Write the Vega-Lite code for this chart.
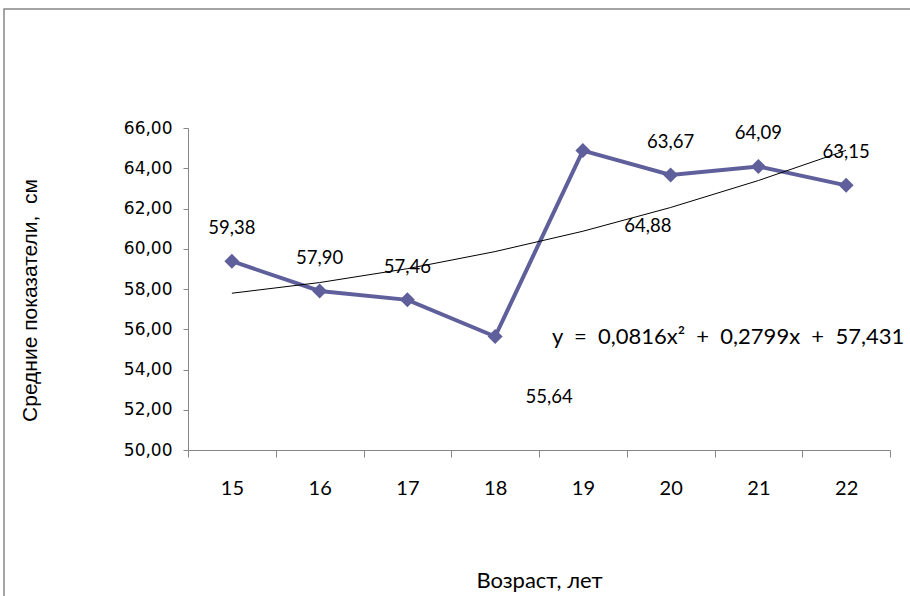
{
  "$schema": "https://vega.github.io/schema/vega-lite/v6.json",
  "width": 702,
  "height": 322,
  "autosize": "none",
  "padding": {"left": 188, "top": 128, "right": 20, "bottom": 146},
  "background": "white",
  "config": {
    "locale": {"number": {"decimal": ",", "thousands": " ", "grouping": [3], "currency": ["", ""]}},
    "view": {"stroke": null}
  },
  "datasets": {
    "means": [
      {"age": 15, "value": 59.38},
      {"age": 16, "value": 57.90},
      {"age": 17, "value": 57.46},
      {"age": 18, "value": 55.64},
      {"age": 19, "value": 64.88},
      {"age": 20, "value": 63.67},
      {"age": 21, "value": 64.09},
      {"age": 22, "value": 63.15}
    ],
    "trend": [
      {"age": 15, "value": 57.79},
      {"age": 16, "value": 58.32},
      {"age": 17, "value": 59.01},
      {"age": 18, "value": 59.86},
      {"age": 19, "value": 60.87},
      {"age": 20, "value": 62.05},
      {"age": 21, "value": 63.39},
      {"age": 22, "value": 64.89}
    ],
    "frame": [{}]
  },
  "encoding": {
    "x": {
      "field": "age",
      "type": "ordinal",
      "scale": {"type": "band", "paddingInner": 0, "paddingOuter": 0},
      "axis": {
        "title": "Возраст, лет",
        "labelAngle": 0,
        "tickBand": "extent",
        "tickSize": 7,
        "domainColor": "#868686",
        "tickColor": "#868686",
        "labelFont": "Lato",
        "labelFontSize": 20,
        "labelColor": "black",
        "labelBaseline": "middle",
        "labelPadding": 31,
        "titleFont": "Lato",
        "titleFontSize": 22,
        "titleFontWeight": "normal",
        "titleColor": "black",
        "titleY": 130,
        "titleBaseline": "middle"
      }
    },
    "y": {
      "field": "value",
      "type": "quantitative",
      "scale": {"domain": [50, 66], "nice": false, "zero": false},
      "axis": {
        "title": "Средние показатели,\u00a0\u00a0см",
        "values": [50, 52, 54, 56, 58, 60, 62, 64, 66],
        "format": ".2f",
        "grid": false,
        "tickSize": 5,
        "labelPadding": 11,
        "domainColor": "#868686",
        "tickColor": "#868686",
        "labelFont": "DejaVu Sans",
        "labelFontSize": 17,
        "labelColor": "black",
        "titleFont": "Liberation Sans",
        "titleFontSize": 21,
        "titleFontWeight": "normal",
        "titleColor": "black",
        "titleAngle": -90,
        "titleX": -158,
        "titleY": 172,
        "titleAlign": "center",
        "titleBaseline": "middle"
      }
    }
  },
  "layer": [
    {
      "data": {"name": "frame"},
      "mark": {"type": "rect", "fill": null, "stroke": "#868686", "strokeWidth": 1.5},
      "encoding": {
        "x": {"value": -184},
        "x2": {"value": 780},
        "y": {"value": -119},
        "y2": {"value": 520}
      }
    },
    {
      "data": {"name": "means"},
      "mark": {
        "type": "line",
        "color": "#5f5f9b",
        "strokeWidth": 4,
        "point": {"shape": "diamond", "size": 225, "filled": true, "color": "#5f5f9b", "opacity": 1}
      }
    },
    {
      "data": {"name": "trend"},
      "mark": {"type": "line", "color": "black", "strokeWidth": 1}
    },
    {
      "data": {"name": "means"},
      "transform": [{"filter": "datum.age != 18 && datum.age != 19"}],
      "mark": {"type": "text", "font": "Lato", "fontSize": 18.5, "color": "black", "baseline": "middle", "align": "center", "dy": -33},
      "encoding": {
        "text": {"field": "value", "type": "quantitative", "format": ".2f"}
      }
    },
    {
      "data": {"name": "means"},
      "transform": [{"filter": "datum.age == 18"}],
      "mark": {"type": "text", "font": "Lato", "fontSize": 18.5, "color": "black", "baseline": "middle", "align": "center", "dx": 54, "dy": 61},
      "encoding": {
        "text": {"field": "value", "type": "quantitative", "format": ".2f"}
      }
    },
    {
      "data": {"name": "means"},
      "transform": [{"filter": "datum.age == 19"}],
      "mark": {"type": "text", "font": "Lato", "fontSize": 18.5, "color": "black", "baseline": "middle", "align": "center", "dx": 65, "dy": 75},
      "encoding": {
        "text": {"field": "value", "type": "quantitative", "format": ".2f"}
      }
    },
    {
      "data": {"name": "means"},
      "transform": [{"filter": "datum.age == 19"}],
      "mark": {"type": "text", "font": "Lato", "fontSize": 22, "color": "black", "baseline": "middle", "align": "left", "dx": -31},
      "encoding": {
        "y": {"datum": 55.6, "type": "quantitative"},
        "text": {"value": "y\u00a0\u00a0=\u00a0\u00a00,0816x²\u00a0\u00a0+\u00a0\u00a00,2799x\u00a0\u00a0+\u00a0\u00a057,431"}
      }
    }
  ]
}
